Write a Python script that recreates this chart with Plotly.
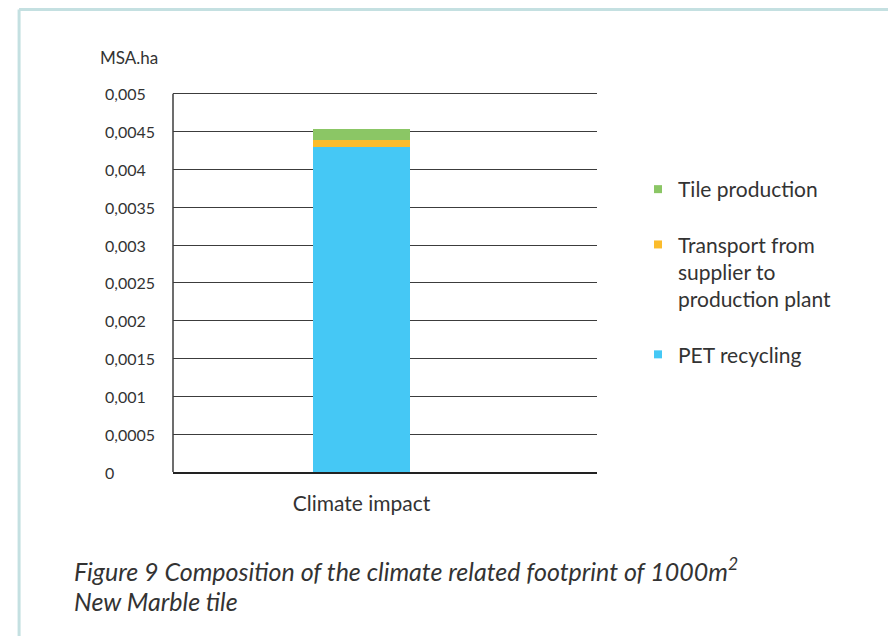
import plotly.graph_objects as go

# data
categories = ["Climate impact"]
pet_recycling = [0.0043]
transport = [0.00009]
tile_production = [0.00015]

series_names = ["PET recycling", "Transport from<br>supplier to<br>production plant", "Tile production"]
series_values = [pet_recycling, transport, tile_production]
series_colors = ["#45C8F5", "#FBBC2C", "#8BC665"]

y_ticks = [0, 0.0005, 0.001, 0.0015, 0.002, 0.0025, 0.003, 0.0035, 0.004, 0.0045, 0.005]
y_tick_labels = ["0", "0,0005", "0,001", "0,0015", "0,002", "0,0025", "0,003", "0,0035", "0,004", "0,0045", "0,005"]

caption_lines = ["Figure 9 Composition of the climate related footprint of 1000m<sup>2</sup>",
                 "New Marble tile"]

FONT = "Lato"
TXT = "#333333"

fig = go.Figure()

# stacked bar
for name, vals, col in zip(series_names, series_values, series_colors):
    fig.add_trace(go.Bar(
        x=categories, y=vals, name=name, marker=dict(color=col, line=dict(width=0)),
        width=0.2573, showlegend=False,
    ))

# legend entries with small square markers (top to bottom like the original)
for i in [2, 1, 0]:
    fig.add_trace(go.Scatter(
        x=[None], y=[None], mode="markers", name=series_names[i],
        marker=dict(symbol="square", size=8, color=series_colors[i]),
        legendgroup=str(i), showlegend=True,
    ))

# left aligned tick labels
annos = []
for v, t in zip(y_ticks, y_tick_labels):
    annos.append(dict(
        x=-0.165, xref="paper", y=v, yref="y", text=t, showarrow=False,
        xanchor="left", yanchor="middle", font=dict(family=FONT, size=16, color=TXT),
    ))
annos.append(dict(
    x=-0.177, xref="paper", y=1.0838, yref="paper", text="MSA.ha", showarrow=False,
    xanchor="left", yanchor="middle", font=dict(family=FONT, size=17, color=TXT),
))
# caption, one annotation per line
for line, yp in zip(caption_lines, [-0.2565, -0.3390]):
    annos.append(dict(
        x=-0.238, xref="paper", y=yp, yref="paper", text="<i>" + line + "</i>",
        showarrow=False, xanchor="left", yanchor="middle", align="left",
        font=dict(family=FONT, size=25, color=TXT),
    ))

# light teal frame round the figure
frame = "#C4E0E1"
shapes = [
    dict(type="line", xref="paper", yref="paper", x0=-0.363, x1=-0.363, y0=1.2107, y1=-0.5,
         line=dict(color=frame, width=3)),
    dict(type="line", xref="paper", yref="paper", x0=-0.363, x1=1.703, y0=1.2107, y1=1.2107,
         line=dict(color=frame, width=3)),
    dict(type="line", xref="paper", yref="paper", x0=1.703, x1=1.703, y0=1.2107, y1=-0.5,
         line=dict(color=frame, width=1.5)),
    # vertical axis line, only up to the top tick
    dict(type="line", xref="paper", yref="y", x0=0, x1=0, y0=0, y1=y_ticks[-1],
         line=dict(color="#3C3C3C", width=1.5)),
]

fig.update_layout(
    width=888, height=628,
    margin=dict(l=165, r=299, t=82, b=164),
    paper_bgcolor="white", plot_bgcolor="white",
    barmode="stack",
    font=dict(family=FONT, color=TXT),
    annotations=annos,
    shapes=shapes,
    legend=dict(
        x=1.0967, y=0.7932, xanchor="left", yanchor="top", valign="top",
        font=dict(family=FONT, size=21, color=TXT),
        tracegroupgap=25, bgcolor="rgba(0,0,0,0)",
    ),
)

fig.update_xaxes(
    type="category", range=[-0.5, 0.6247],
    showline=True, linecolor="#222222", linewidth=1.5,
    showgrid=False, ticks="", tickfont=dict(family=FONT, size=21, color=TXT),
    ticklabelstandoff=12,
)
fig.update_yaxes(
    range=[0, 0.00505], tickvals=y_ticks, showticklabels=False,
    showgrid=True, gridcolor="#3C3C3C", gridwidth=1,
    showline=False, zeroline=False,
)

fig.write_html("out.html")
